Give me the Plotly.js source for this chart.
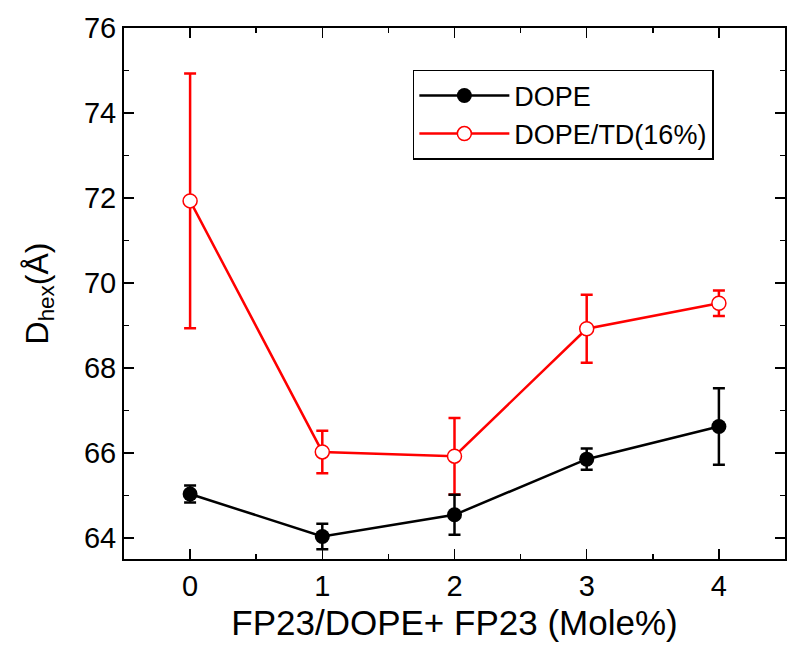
<!DOCTYPE html>
<html>
<head>
<meta charset="utf-8">
<script src="https://cdn.plot.ly/plotly-3.0.1.min.js"></script>
<style>html,body{margin:0;padding:0;background:#fff;}#chart{width:800px;height:660px;}</style>
</head>
<body>
<div id="chart"></div>
<script>
const xValues = [0, 1, 2, 3, 4];
const dopeY = [65.03, 64.03, 64.54, 65.85, 66.62];
const dopeErr = [0.2, 0.3, 0.47, 0.25, 0.9];
const dopeTdY = [71.93, 66.02, 65.92, 68.92, 69.52];
const dopeTdErr = [3.0, 0.5, 0.9, 0.8, 0.3];
const seriesNames = ['DOPE', 'DOPE/TD(16%)'];
const xTicks = [0, 1, 2, 3, 4];
const yTicks = [64, 66, 68, 70, 72, 74, 76];

const font = 'Liberation Sans, Arial, Helvetica, sans-serif';

const traces = [
  {
    x: xValues, y: dopeTdY, name: seriesNames[1], type: 'scatter', mode: 'lines+markers',
    line: {color: '#ff0000', width: 2.5},
    marker: {symbol: 'circle', size: 14, color: '#ffffff', line: {color: '#ff0000', width: 1.5}},
    error_y: {type: 'data', array: dopeTdErr, visible: true, color: '#ff0000', thickness: 2.5, width: 6},
    legendrank: 2
  },
  {
    x: xValues, y: dopeY, name: seriesNames[0], type: 'scatter', mode: 'lines+markers',
    line: {color: '#000000', width: 2.5},
    marker: {symbol: 'circle', size: 15, color: '#000000'},
    error_y: {type: 'data', array: dopeErr, visible: true, color: '#000000', thickness: 2.5, width: 6},
    legendrank: 1
  }
];

const layout = {
  width: 800, height: 660,
  margin: {l: 124, r: 15, t: 28, b: 101},
  paper_bgcolor: '#fff', plot_bgcolor: '#fff',
  font: {family: font, color: '#000', size: 26},
  showlegend: true,
  legend: {
    x: 0.437, y: 0.921, xanchor: 'left', yanchor: 'top',
    bordercolor: '#000', borderwidth: 1.5, bgcolor: '#fff',
    font: {family: font, size: 27, color: '#000'},
    traceorder: 'normal', itemwidth: 90, tracegroupgap: 0
  },
  xaxis: {
    range: [-0.5, 4.5], tickvals: xTicks, ticktext: xTicks.map(String),
    ticks: 'inside', ticklen: 10, tickwidth: 1.5, tickcolor: '#000',
    minor: {dtick: 0.5, tick0: 0, ticks: 'inside', ticklen: 5, tickwidth: 1.5, tickcolor: '#000', showgrid: false},
    showline: true, linecolor: '#000', linewidth: 2, mirror: 'allticks',
    showgrid: false, zeroline: false,
    tickfont: {family: font, size: 29, color: '#000'},
    title: {text: 'FP23/DOPE+ FP23 (Mole%)', font: {family: font, size: 35, color: '#000'}, standoff: 10}
  },
  yaxis: {
    range: [63.5, 76], tickvals: yTicks, ticktext: yTicks.map(String),
    ticks: 'inside', ticklen: 10, tickwidth: 1.5, tickcolor: '#000',
    minor: {dtick: 1, tick0: 64, ticks: 'inside', ticklen: 5, tickwidth: 1.5, tickcolor: '#000', showgrid: false},
    showline: true, linecolor: '#000', linewidth: 2, mirror: 'allticks',
    showgrid: false, zeroline: false,
    tickfont: {family: font, size: 29, color: '#000'},
    title: {text: 'D<sub>hex</sub>(Å)', font: {family: font, size: 32, color: '#000'}, standoff: 26}
  }
};

Plotly.newPlot('chart', traces, layout, {displayModeBar: false, staticPlot: true});
</script>
</body>
</html>
